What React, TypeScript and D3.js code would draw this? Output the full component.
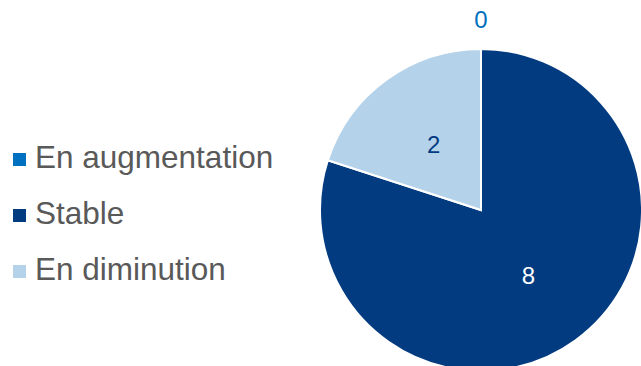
import React from "react";
import * as d3 from "d3";

const categories = ["En augmentation", "Stable", "En diminution"];
const values = [0, 8, 2];
const colors = ["#0070C0", "#033B80", "#B4D3EB"];
const labelColors = ["#0070C0", "#FFFFFF", "#033B80"];

export default function App() {
  const width = 641;
  const height = 366;
  const cx = 481;
  const cy = 210;
  const r = 161;
  const pie = d3.pie<number>().sort(null).value((d) => d)(values);
  const arc = d3.arc<d3.PieArcDatum<number>>().innerRadius(0).outerRadius(r);
  const labelArc = d3.arc<d3.PieArcDatum<number>>().innerRadius(r * 0.5).outerRadius(r * 0.5);
  const font = "Liberation Sans, Arial, sans-serif";
  return (
    <svg width={width} height={height} style={{ position: "absolute", left: 0, top: 0 }}>
      <g transform={`translate(${cx},${cy})`}>
        {pie.map((p, i) => (
          <path key={i} d={arc(p) || ""} fill={colors[i]} stroke="#FFFFFF" strokeWidth={2} />
        ))}
        {pie.map((p, i) => {
          let [x, y] = labelArc.centroid(p);
          if (values[i] === 0) {
            x = 0;
            y = -r - 29;
          }
          return (
            <text key={i} x={x} y={y} dy="0.35em" textAnchor="middle" fontFamily={font} fontSize={24} fill={labelColors[i]}>
              {values[i]}
            </text>
          );
        })}
      </g>
      {categories.map((c, i) => (
        <g key={c} transform={`translate(0,${168 + i * 56})`}>
          <rect x={13} y={-15} width={13} height={13} fill={colors[i]} />
          <text x={35} y={0} fontFamily={font} fontSize={31.5} fill="#595959">{c}</text>
        </g>
      ))}
    </svg>
  );
}
